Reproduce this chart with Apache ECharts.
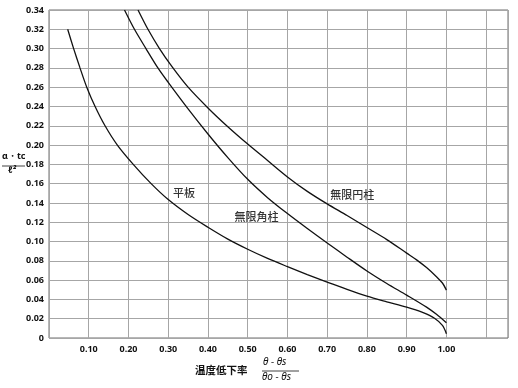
<!DOCTYPE html>
<html>
<head>
<meta charset="utf-8">
<script src="https://cdn.jsdelivr.net/npm/echarts@6/dist/echarts.min.js"></script>
<style>html,body{margin:0;padding:0;background:#fff}#c{width:518px;height:388px}</style>
</head>
<body>
<div id="c"></div>
<script>
// 平板 (flat plate)
var flatX = [0.047,0.062,0.078,0.095,0.116,0.141,0.172,0.212,0.257,0.300,0.350,0.400,0.450,0.500,0.550,0.600,0.650,0.700,0.750,0.800,0.850,0.900,0.940,0.970,0.990,1.000];
var flatY = [0.320,0.300,0.280,0.260,0.240,0.220,0.200,0.180,0.160,0.1435,0.128,0.1148,0.1025,0.092,0.0825,0.074,0.0658,0.058,0.0503,0.0433,0.0375,0.032,0.0265,0.0205,0.013,0.0045];
// 無限角柱 (infinite square prism)
var squareX = [0.190,0.215,0.244,0.274,0.300,0.350,0.400,0.450,0.500,0.550,0.600,0.650,0.700,0.750,0.800,0.850,0.900,0.950,0.975,1.000];
var squareY = [0.340,0.320,0.300,0.280,0.265,0.2375,0.2115,0.187,0.1645,0.1455,0.129,0.1135,0.0985,0.0838,0.0695,0.0565,0.0445,0.032,0.0245,0.0157];
// 無限円柱 (infinite cylinder)
var cylX = [0.224,0.249,0.278,0.310,0.350,0.400,0.450,0.500,0.550,0.600,0.650,0.700,0.750,0.800,0.850,0.900,0.925,0.950,0.975,0.990,1.000];
var cylY = [0.340,0.320,0.300,0.281,0.260,0.2385,0.219,0.201,0.184,0.167,0.152,0.139,0.127,0.1145,0.102,0.088,0.081,0.073,0.0635,0.057,0.0496];
// curve names and label anchor positions (data coords)
var curveNames = ['平板','無限角柱','無限円柱'];
var labelX = [0.34,0.522,0.763];
var labelY = [0.150,0.126,0.148];

function pairs(xs, ys){ return xs.map(function(x,i){ return [x, ys[i]]; }); }

var chart = echarts.init(document.getElementById('c'), null, {renderer:'canvas'});
var lineStyle = {color:'#111', width:1.3};
var numFont = {fontFamily:'Noto Sans', fontSize:9, fontWeight:'bold', color:'#111'};
chart.setOption({
  animation:false,
  grid:{left:49, right:10, top:10, bottom:50, show:true, borderColor:'#6e6e6e', borderWidth:1},
  xAxis:{type:'value', min:0, max:1.155, interval:0.1,
    axisLine:{show:false}, axisTick:{show:false},
    splitLine:{show:true, lineStyle:{color:'#a6a6a6', width:1}},
    axisLabel:Object.assign({margin:7, showMaxLabel:false, formatter:function(v){ if(v<0.05||v>1.05) return ''; return v.toFixed(2);} }, numFont)
  },
  yAxis:{type:'value', min:0, max:0.34, interval:0.02,
    axisLine:{show:false}, axisTick:{show:false},
    splitLine:{show:true, lineStyle:{color:'#a6a6a6', width:1}},
    axisLabel:Object.assign({margin:5, formatter:function(v){ return v===0 ? '0' : v.toFixed(2);} }, numFont)
  },
  series:[
    {name:curveNames[0], type:'line', smooth:0.3, showSymbol:false, data:pairs(flatX, flatY), lineStyle:lineStyle},
    {name:curveNames[1], type:'line', smooth:0.3, showSymbol:false, data:pairs(squareX, squareY), lineStyle:lineStyle},
    {name:curveNames[2], type:'line', smooth:0.3, showSymbol:false, data:pairs(cylX, cylY), lineStyle:lineStyle},
    {type:'scatter', symbolSize:1, itemStyle:{color:'rgba(0,0,0,0)'},
      data:curveNames.map(function(n,i){ return [labelX[i], labelY[i], n]; }),
      label:{show:true, position:'inside', formatter:function(p){ return p.data[2]; },
        fontFamily:'Noto Sans CJK JP', fontSize:11, fontWeight:500, color:'#000'}}
  ],
  graphic:[
    {type:'text', left:2, top:152, style:{text:'α・tc', fontFamily:'Noto Sans', fontSize:9, fontWeight:'bold', fill:'#111'}},
    {type:'line', shape:{x1:2, y1:166, x2:25, y2:166}, style:{stroke:'#111', lineWidth:0.8}},
    {type:'text', left:8, top:166, style:{text:'ℓ²', fontFamily:'Noto Sans', fontSize:9, fontStyle:'italic', fontWeight:'bold', fill:'#111'}},
    {type:'text', left:195, top:365, style:{text:'温度低下率', fontFamily:'Noto Sans CJK JP', fontSize:10.5, fontWeight:'bold', fill:'#111'}},
    {type:'text', left:263, top:357, style:{text:'θ − θs', fontFamily:'Noto Sans', fontSize:10, fontStyle:'italic', fill:'#111'}},
    {type:'line', shape:{x1:262, y1:371, x2:299, y2:371}, style:{stroke:'#111', lineWidth:0.8}},
    {type:'text', left:262, top:372, style:{text:'θo − θs', fontFamily:'Noto Sans', fontSize:10, fontStyle:'italic', fill:'#111'}}
  ]
});
</script>
</body>
</html>
